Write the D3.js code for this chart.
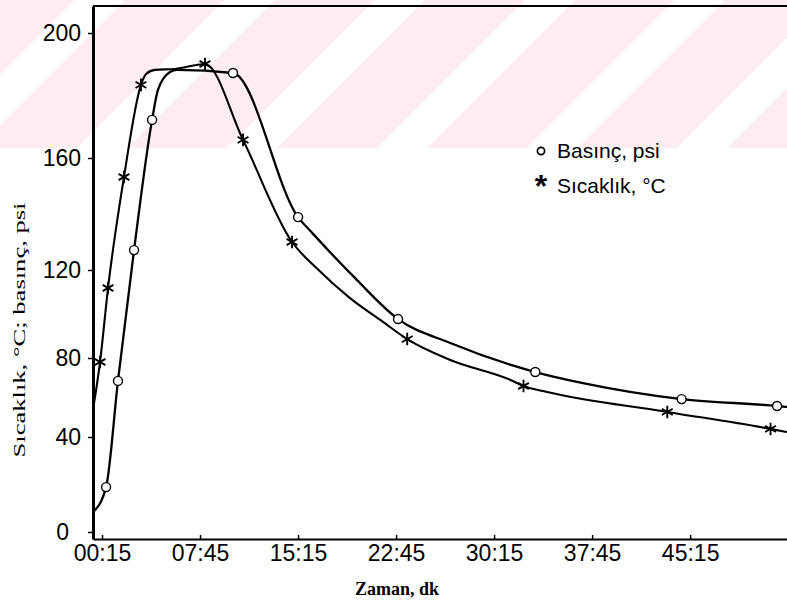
<!DOCTYPE html>
<html>
<head>
<meta charset="utf-8">
<script src="https://cdn.jsdelivr.net/npm/d3@7"></script>
<style>
  body { margin: 0; background: #fff; }
  svg { display: block; }
</style>
</head>
<body>
<svg id="chart" width="787" height="603"></svg>
<script>
// eksen değerleri
const xTicks = [0.25, 7.75, 15.25, 22.75, 30.25, 37.75, 45.25];
const xTickLabels = ["00:15", "07:45", "15:15", "22:45", "30:15", "37:45", "45:15"];
const yTicks = [0, 40, 80, 120, 160, 200];

// Basınç, psi (zaman dk)
const pressureTime  = [-0.44, 0.56, 1.47, 2.70, 4.08, 4.53, 5.45, 5.99, 10.27, 15.25, 16.4, 19.6, 22.9, 26.9, 33.4, 37.05, 44.6, 51.9, 52.66];
const pressureValue = [8.4, 18.9, 68.4, 127.1, 172.2, 181.8, 187.5, 188.2, 187.2, 138.9, 132.9, 116.4, 97.7, 86.8, 72.9, 67.3, 59.2, 55.7, 55.2];
const pressureMarks = [1, 2, 3, 4, 8, 9, 12, 14, 16, 17];

// Sıcaklık, °C
const tempTime  = [-0.44, 0.10, 0.71, 1.93, 3.23, 3.62, 4.30, 5.84, 8.13, 11.04, 14.79, 16.7, 19.2, 21.75, 23.6, 26.9, 31.5, 32.5, 34.3, 43.5, 51.4, 52.66];
const tempValue = [53.7, 78.0, 111.8, 153.2, 183.4, 186.9, 188.2, 188.5, 190.1, 165.8, 130.0, 120.5, 107.3, 96.4, 88.6, 79.0, 68.9, 65.8, 62.8, 52.7, 44.1, 42.5];
const tempMarks = [1, 2, 3, 4, 8, 9, 10, 14, 17, 19, 20];

const svg = d3.select("#chart");
const width = 787;

// arka plandaki pembe filigran şeritleri
svg.append("clipPath").attr("id", "wmclip")
    .append("rect").attr("x", 0).attr("y", 0).attr("width", width).attr("height", 148);
svg.append("g")
    .attr("clip-path", "url(#wmclip)")
    .selectAll("polygon")
    .data(d3.range(-2, 8))
    .join("polygon")
    .attr("points", k => {
        const u0 = 125 + k * 150, u1 = u0 + 100;
        return [[u0, 0], [u1, 0], [u1 - 300, 300], [u0 - 300, 300]].join(" ");
    })
    .attr("fill", "#fdedf0");

const x = d3.scaleLinear()
    .domain([-0.44, 52.66])
    .range([93, 787]);

// taranmış grafikteki eşit olmayan tik aralıkları
const y = d3.scaleLinear()
    .domain([-3, 0, 40, 80, 120, 160, 200, 212])
    .range([539, 532, 437, 358, 270, 158, 33, 6]);

const yAxis = svg.append("g")
    .attr("transform", `translate(${x.range()[0]},0)`)
    .call(d3.axisLeft(y).tickValues(yTicks).tickSize(5).tickSizeOuter(0).tickPadding(7));
yAxis.select(".domain").attr("stroke", "#000").attr("stroke-width", 3);
yAxis.selectAll(".tick line").attr("stroke-width", 1.5);
yAxis.selectAll("text")
    .attr("font-family", "Liberation Sans, Arial, sans-serif")
    .attr("font-size", 23)
    .attr("fill", "#000");
// "0" etiketi biraz solda duruyor
yAxis.selectAll(".tick").filter(d => d === 0).select("text").attr("x", -24);

const xAxis = svg.append("g")
    .attr("transform", `translate(0,${y.range()[0]})`)
    .call(d3.axisBottom(x).tickValues(xTicks).tickFormat((d, i) => xTickLabels[i])
        .tickSize(-4).tickSizeOuter(0).tickPadding(6));
xAxis.select(".domain").attr("stroke", "#000").attr("stroke-width", 2.2);
xAxis.selectAll(".tick line").attr("stroke-width", 1.5);
xAxis.selectAll("text")
    .attr("font-family", "Liberation Sans, Arial, sans-serif")
    .attr("font-size", 23)
    .attr("fill", "#000");

// üst çerçeve
const yTop = y.range()[y.range().length - 1];
svg.append("line")
    .attr("x1", x.range()[0]).attr("x2", x.range()[1])
    .attr("y1", yTop).attr("y2", yTop)
    .attr("stroke", "#000").attr("stroke-width", 2.2);

const line = d3.line()
    .x(d => x(d[0]))
    .y(d => y(d[1]))
    .curve(d3.curveMonotoneX);

const pressure = pressureTime.map((t, i) => [t, pressureValue[i]]);
const temp = tempTime.map((t, i) => [t, tempValue[i]]);

svg.append("path").datum(pressure)
    .attr("d", line).attr("fill", "none").attr("stroke", "#000").attr("stroke-width", 2.3);
svg.append("path").datum(temp)
    .attr("d", line).attr("fill", "none").attr("stroke", "#000").attr("stroke-width", 2.1);

svg.append("g").selectAll("circle")
    .data(pressureMarks.map(i => pressure[i]))
    .join("circle")
    .attr("cx", d => x(d[0]))
    .attr("cy", d => y(d[1]))
    .attr("r", 4.5)
    .attr("fill", "#fff")
    .attr("stroke", "#000")
    .attr("stroke-width", 1.4);

const star = d3.symbol(d3.symbolAsterisk, 110);
svg.append("g").selectAll("path")
    .data(tempMarks.map(i => temp[i]))
    .join("path")
    .attr("transform", d => `translate(${x(d[0])},${y(d[1])})`)
    .attr("d", star)
    .attr("stroke", "#000")
    .attr("stroke-width", 1.9)
    .attr("fill", "none");

// lejant
const legend = svg.append("g").attr("font-family", "Liberation Sans, Arial, sans-serif");
legend.append("circle")
    .attr("cx", 541).attr("cy", 151).attr("r", 3.6)
    .attr("fill", "#fff").attr("stroke", "#000").attr("stroke-width", 1.7);
legend.append("text")
    .attr("x", 557).attr("y", 151).attr("dy", "0.35em")
    .attr("font-size", 21).text("Basınç, psi");
legend.append("text")
    .attr("x", 541).attr("y", 197).attr("text-anchor", "middle")
    .attr("font-size", 32).attr("font-weight", "bold").text("*");
legend.append("text")
    .attr("x", 557).attr("y", 186).attr("dy", "0.35em")
    .attr("font-size", 21).text("Sıcaklık, °C");

// eksen başlıkları
svg.append("text")
    .attr("x", 397).attr("y", 595)
    .attr("text-anchor", "middle")
    .attr("font-family", "Liberation Serif, Times New Roman, serif")
    .attr("font-size", 18)
    .attr("font-weight", "bold")
    .text("Zaman, dk");

svg.append("text")
    .attr("transform", "translate(25,330) rotate(-90)")
    .attr("text-anchor", "middle")
    .attr("font-family", "Liberation Serif, Times New Roman, serif")
    .attr("font-size", 17)
    .attr("textLength", 255)
    .attr("lengthAdjust", "spacingAndGlyphs")
    .text("Sıcaklık, °C; basınç, psi");
</script>
</body>
</html>
